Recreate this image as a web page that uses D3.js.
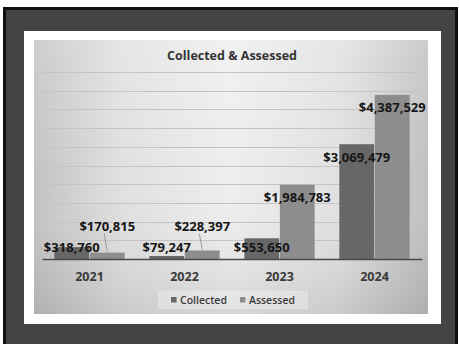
<!DOCTYPE html>
<html>
<head>
<meta charset="utf-8">
<script src="https://cdn.jsdelivr.net/npm/d3@7"></script>
<style>
  html, body { margin: 0; padding: 0; background: #ffffff; }
  svg { display: block; }
  text { font-family: "Open Sans", "Liberation Sans", sans-serif; }
</style>
</head>
<body>
<svg id="chart" width="459" height="344"></svg>
<script>
// ---- data ----
const years = ["2021", "2022", "2023", "2024"];
const seriesNames = ["Collected", "Assessed"];
const collected = [318760, 79247, 553650, 3069479];
const assessed = [170815, 228397, 1984783, 4387529];
const yTicks = [0, 500000, 1000000, 1500000, 2000000, 2500000, 3000000, 3500000, 4000000, 4500000, 5000000];
const titleText = "Collected & Assessed";

const seriesValues = { Collected: collected, Assessed: assessed };
const seriesColors = { Collected: "#676767", Assessed: "#8d8d8d" };

const svg = d3.select("#chart");

// ---- outer dark frame, white panel, shaded chart area ----
svg.append("rect").attr("x", 4.5).attr("y", 8.5).attr("width", 452).attr("height", 345)
  .attr("fill", "#444444").attr("stroke", "#111111").attr("stroke-width", 3);

svg.append("rect").attr("x", 24).attr("y", 31).attr("width", 417).attr("height", 293)
  .attr("fill", "#ffffff");

const defs = svg.append("defs");
const hg = defs.append("linearGradient").attr("id", "bgH").attr("x1", "0").attr("x2", "1").attr("y1", "0").attr("y2", "0");
[[0, "#c3c3c3"], [0.22, "#e0e0e0"], [0.5, "#eeeeee"], [0.78, "#e0e0e0"], [1, "#c0c0c0"]]
  .forEach(([o, c]) => hg.append("stop").attr("offset", o).attr("stop-color", c));
const vg = defs.append("linearGradient").attr("id", "bgV").attr("x1", "0").attr("x2", "0").attr("y1", "0").attr("y2", "1");
[[0, "#ffffff", 0.18], [0.5, "#ffffff", 0], [1, "#000000", 0.1]]
  .forEach(([o, c, a]) => vg.append("stop").attr("offset", o).attr("stop-color", c).attr("stop-opacity", a));

svg.append("rect").attr("x", 34).attr("y", 40).attr("width", 394).attr("height", 274).attr("fill", "url(#bgH)");
svg.append("rect").attr("x", 34).attr("y", 40).attr("width", 394).attr("height", 274).attr("fill", "url(#bgV)");

// ---- scales ----
const plot = { left: 42, right: 422, top: 72, bottom: 259 };
const x = d3.scaleBand().domain(years).range([plot.left, plot.right]).paddingInner(0.26).paddingOuter(0.13);
const xs = d3.scaleBand().domain(seriesNames).range([0, x.bandwidth()]).paddingInner(0.02);
const y = d3.scaleLinear().domain([0, 5000000]).range([plot.bottom, plot.top]);

// ---- gridlines ----
svg.append("g").selectAll("line").data(yTicks.slice(1)).join("line")
  .attr("x1", plot.left).attr("x2", plot.right)
  .attr("y1", d => Math.round(y(d)) + 0.5).attr("y2", d => Math.round(y(d)) + 0.5)
  .attr("stroke", "#c4c4c4").attr("stroke-width", 1);

// ---- title ----
svg.append("text").attr("x", (plot.left + plot.right) / 2 + 0).attr("y", 59.5)
  .attr("text-anchor", "middle").attr("font-size", 12.5).attr("font-weight", 700)
  .attr("fill", "#333333").text(titleText);

// ---- bars ----
const rows = [];
years.forEach((yr, i) => seriesNames.forEach(s => rows.push({ year: yr, series: s, value: seriesValues[s][i] })));

svg.append("g").selectAll("rect").data(rows).join("rect")
  .attr("x", d => x(d.year) + xs(d.series))
  .attr("width", xs.bandwidth())
  .attr("y", d => y(d.value))
  .attr("height", d => y(0) - y(d.value))
  .attr("fill", d => seriesColors[d.series]);

// ---- category axis ----
const xAxis = svg.append("g").attr("transform", `translate(0,${plot.bottom})`)
  .call(d3.axisBottom(x).tickSize(0).tickPadding(13));
xAxis.select(".domain").attr("stroke", "#4a4a4a").attr("stroke-width", 1.6);
xAxis.selectAll("text").attr("font-size", 12.5).attr("font-weight", 700).attr("fill", "#3a3a3a")
  .attr("font-family", "\"Open Sans\", sans-serif");

// ---- data labels ----
const fmt = v => "$" + d3.format(",")(v);
const labelG = svg.append("g");
rows.forEach(d => {
  const cx = x(d.year) + xs(d.series) + xs.bandwidth() / 2;
  const top = y(d.value);
  const barH = y(0) - top;
  let cy = Math.min(top + 13, plot.bottom - 11.5);
  const lifted = d.series === "Assessed" && barH < 20;
  if (lifted) {
    cy = plot.bottom - 32.5;
    labelG.append("line")
      .attr("x1", cx - 3).attr("y1", cy + 7)
      .attr("x2", cx).attr("y2", top - 1)
      .attr("stroke", "#8a8a8a").attr("stroke-width", 0.8);
  }
  labelG.append("text").attr("x", cx).attr("y", cy).attr("dy", "0.35em")
    .attr("text-anchor", "middle").attr("font-size", 13).attr("font-weight", 700)
    .attr("fill", "#161616").text(fmt(d.value));
});

// ---- legend ----
const legend = svg.append("g");
const legBg = legend.append("rect").attr("fill", "#ffffff").attr("fill-opacity", 0.3);
const items = [];
seriesNames.forEach(s => {
  const g = legend.append("g");
  g.append("rect").attr("x", 0).attr("y", -3).attr("width", 5.5).attr("height", 5.5).attr("fill", seriesColors[s]);
  const t = g.append("text").attr("x", 9).attr("y", 0).attr("dy", "0.35em")
    .attr("font-size", 10.5).attr("font-weight", 600).attr("fill", "#3a3a3a").text(s);
  const w = 9 + t.node().getComputedTextLength();
  items.push({ g, w });
});
const gapItems = 13;
const totalW = d3.sum(items, d => d.w) + gapItems * (items.length - 1);
const legCx = 233, legCy = 300;
let lx = legCx - totalW / 2;
items.forEach(it => { it.g.attr("transform", `translate(${lx},${legCy})`); lx += it.w + gapItems; });
legBg.attr("x", legCx - totalW / 2 - 13).attr("y", legCy - 9).attr("width", totalW + 26).attr("height", 18);
</script>
</body>
</html>
